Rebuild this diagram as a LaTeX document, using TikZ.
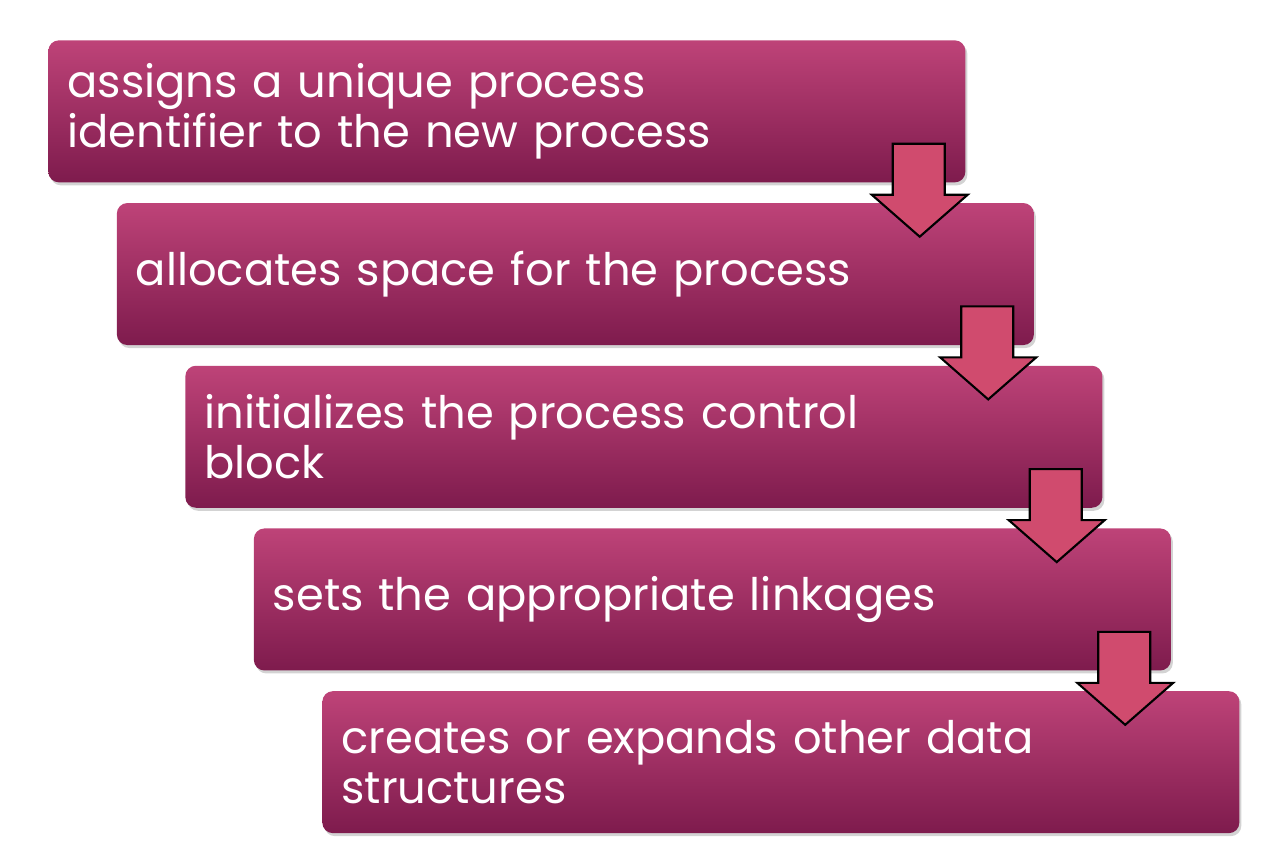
\documentclass[tikz,border=0pt]{standalone}
\usepackage{fontspec}
\setmainfont{Poppins}
\usepackage{xcolor}
\usepackage{tikz}
\usetikzlibrary{positioning, calc, shadows}

\definecolor{boxtop}{HTML}{BE4378}
\definecolor{boxbottom}{HTML}{7E1B4D}
\definecolor{arrowfill}{HTML}{D04B6E}

\begin{document}
\begin{tikzpicture}[node distance=0.4cm]
        \tikzset{
            stepbox/.style={rectangle, rounded corners=6pt, top color=boxtop, bottom color=boxbottom, draw=none, text=white, minimum width=18.34cm, minimum height=2.84cm, text width=17.58cm, inner xsep=0.38cm, align=left, font=\fontsize{25.5}{28.5}\selectfont, drop shadow={shadow xshift=0.04cm, shadow yshift=-0.06cm, opacity=0.35}},
            downarrow/.style={draw=black, fill=arrowfill, line width=1.2pt, line join=miter}
        }
        \useasboundingbox (0,0) rectangle (25.6,-17.12);

        \node [stepbox, anchor=north west] (assign) at (0.96,-0.80) {assigns a unique process\\identifier to the new process};
        \node [stepbox, below=of assign, xshift=1.37cm] (alloc) {allocates space for the process};
        \node [stepbox, below=of alloc, xshift=1.37cm] (init) {initializes the process control\\block};
        \node [stepbox, below=of init, xshift=1.37cm] (links) {sets the appropriate linkages};
        \node [stepbox, below=of links, xshift=1.37cm] (create) {creates or expands other data\\structures};

        % block arrows from each box down to the next
        \foreach \from in {assign, alloc, init, links}
            \draw [downarrow] ($(\from.south east)+(-1.46,0.78)$) -- ($(\from.south east)+(-0.42,0.78)$)
                -- ($(\from.south east)+(-0.42,-0.24)$) -- ($(\from.south east)+(0.04,-0.24)$)
                -- ($(\from.south east)+(-0.92,-1.08)$) -- ($(\from.south east)+(-1.88,-0.24)$)
                -- ($(\from.south east)+(-1.46,-0.24)$) -- cycle;
    \end{tikzpicture}
\end{document}
